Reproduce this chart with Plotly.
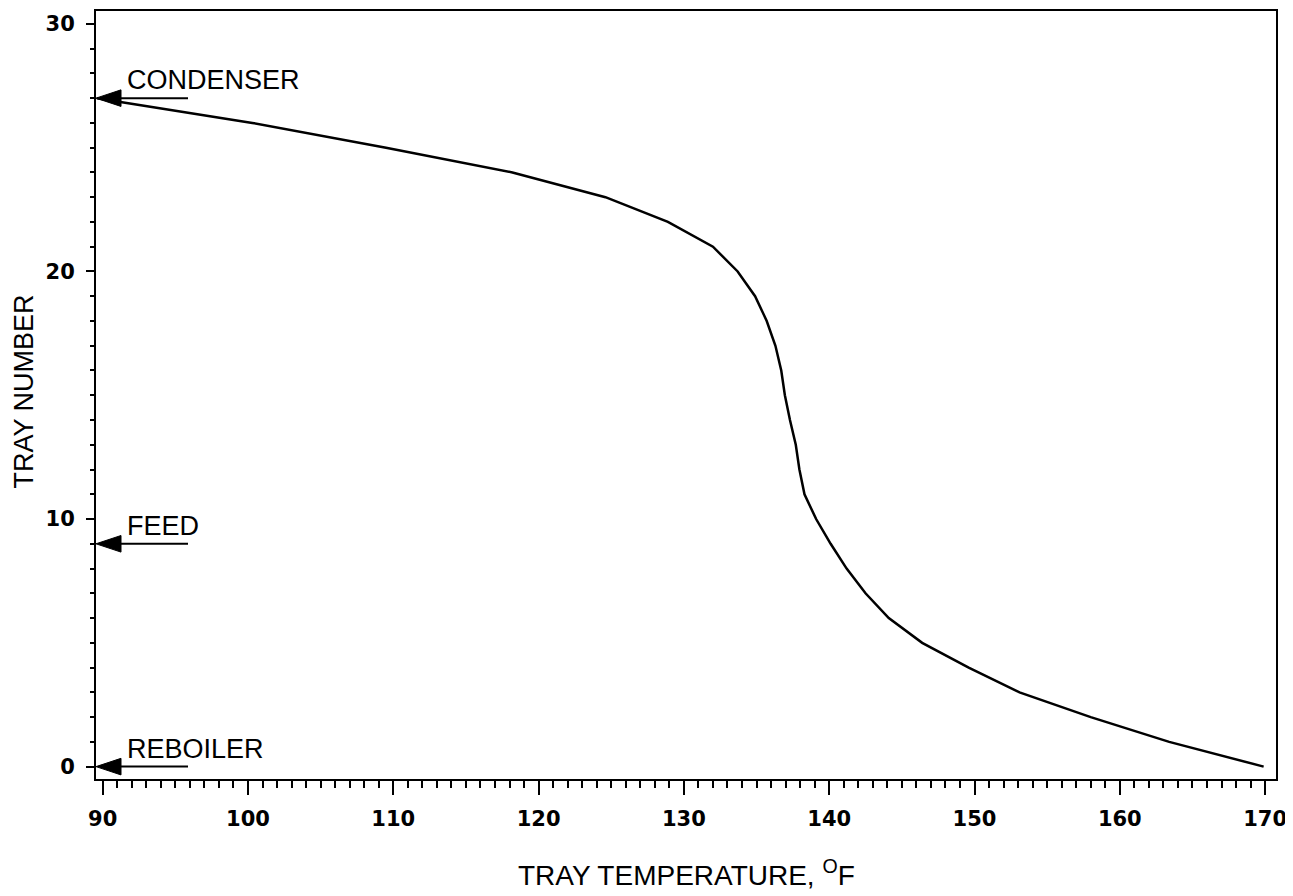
import plotly.graph_objects as go

# ---- data ----
tray_number = list(range(0, 28))
tray_temperature = [169.9, 163.4, 158.0, 153.1, 149.6, 146.4, 144.1, 142.5, 141.2, 140.1,
                    139.1, 138.3, 137.95, 137.7, 137.3, 136.95, 136.7, 136.3, 135.7, 134.9,
                    133.7, 132.0, 128.9, 124.6, 118.2, 109.5, 100.3, 89.6]

marker_labels = ["CONDENSER", "FEED", "REBOILER"]
marker_trays = [27, 9, 0]

x_ticks = [90, 100, 110, 120, 130, 140, 150, 160, 170]
y_ticks = [0, 10, 20, 30]

x_title = "TRAY TEMPERATURE, <sup>O</sup>F"
y_title = "TRAY NUMBER"

# ---- axes geometry (styling); page body adds an 8px offset ----
OFF = 8
X_RANGE = [89.54, 170.75]
Y_RANGE = [-0.5, 30.52]
W, H = 1293 - OFF, 896 - OFF
M = dict(l=96 - OFF, r=17, t=11 - OFF, b=117)
PW, PH = W - M["l"] - M["r"], H - M["t"] - M["b"]
BOTTOM = H - M["b"]
px_per_x = PW / (X_RANGE[1] - X_RANGE[0])
px_per_y = PH / (Y_RANGE[1] - Y_RANGE[0])

HEAD_LEN_PX, HEAD_HALF_PX, TAIL_PX = 25, 8.3, 92
FONT = "DejaVu Sans"
TEXT_FONT = "Liberation Sans, Arial, sans-serif"

fig = go.Figure()

fig.add_trace(go.Scatter(
    x=tray_temperature, y=tray_number, mode="lines",
    line=dict(color="black", width=2.5), hoverinfo="skip", showlegend=False))

# arrows pointing at the left axis
head_x, head_y, tail_x, tail_y = [], [], [], []
x0 = X_RANGE[0]
for t in marker_trays:
    L = HEAD_LEN_PX / px_per_x
    h = HEAD_HALF_PX / px_per_y
    head_x += [x0, x0 + L, x0 + L, x0, None]
    head_y += [t, t + h, t - h, t, None]
    tail_x += [x0 + L * 0.5, x0 + TAIL_PX / px_per_x, None]
    tail_y += [t, t, None]

fig.add_trace(go.Scatter(x=tail_x, y=tail_y, mode="lines",
                         line=dict(color="black", width=2),
                         hoverinfo="skip", showlegend=False, cliponaxis=False))
fig.add_trace(go.Scatter(x=head_x, y=head_y, mode="lines", fill="toself",
                         fillcolor="black", line=dict(color="black", width=1),
                         hoverinfo="skip", showlegend=False, cliponaxis=False))

for lab, t in zip(marker_labels, marker_trays):
    fig.add_annotation(x=x0 + 29 / px_per_x, y=t, text=lab, showarrow=False,
                       xanchor="left", yanchor="bottom", yshift=1,
                       font=dict(family=TEXT_FONT, size=27, color="black"))

# axis titles
fig.add_annotation(xref="paper", yref="paper", x=0.5,
                   y=-((893 - OFF) - BOTTOM) / PH,
                   xanchor="center", yanchor="bottom", showarrow=False, text=x_title,
                   font=dict(family=TEXT_FONT, size=28, color="black"))
fig.add_annotation(xref="paper", yref="paper", x=((23.5 - OFF) - M["l"]) / PW,
                   y=(BOTTOM - (392 - OFF)) / PH, textangle=-90,
                   xanchor="center", yanchor="middle", showarrow=False, text=y_title,
                   font=dict(family=TEXT_FONT, size=27, color="black"))

axis_common = dict(showline=True, linecolor="black", linewidth=2, mirror=True,
                   showgrid=False, zeroline=False, ticks="outside",
                   tickcolor="black", tickwidth=2, automargin=False)

fig.update_xaxes(range=X_RANGE, tickmode="array", tickvals=x_ticks,
                 ticktext=[str(v) for v in x_ticks], ticklen=14,
                 ticklabelstandoff=6,
                 tickfont=dict(family=FONT, size=21, color="black", weight="bold"),
                 minor=dict(tick0=90, dtick=1, ticklen=7, tickwidth=1.5,
                            tickcolor="black", ticks="outside"),
                 **axis_common)
fig.update_yaxes(range=Y_RANGE, tickmode="array", tickvals=y_ticks,
                 ticktext=[str(v) for v in y_ticks], ticklen=8,
                 ticklabelstandoff=7,
                 tickfont=dict(family=FONT, size=21, color="black", weight="bold"),
                 minor=dict(tick0=0, dtick=1, ticklen=4, tickwidth=1.5,
                            tickcolor="black", ticks="outside"),
                 **axis_common)

fig.update_layout(width=W, height=H, autosize=False, margin=M,
                  plot_bgcolor="white", paper_bgcolor="white", showlegend=False)

fig.write_html("out.html", config={"displayModeBar": False})
